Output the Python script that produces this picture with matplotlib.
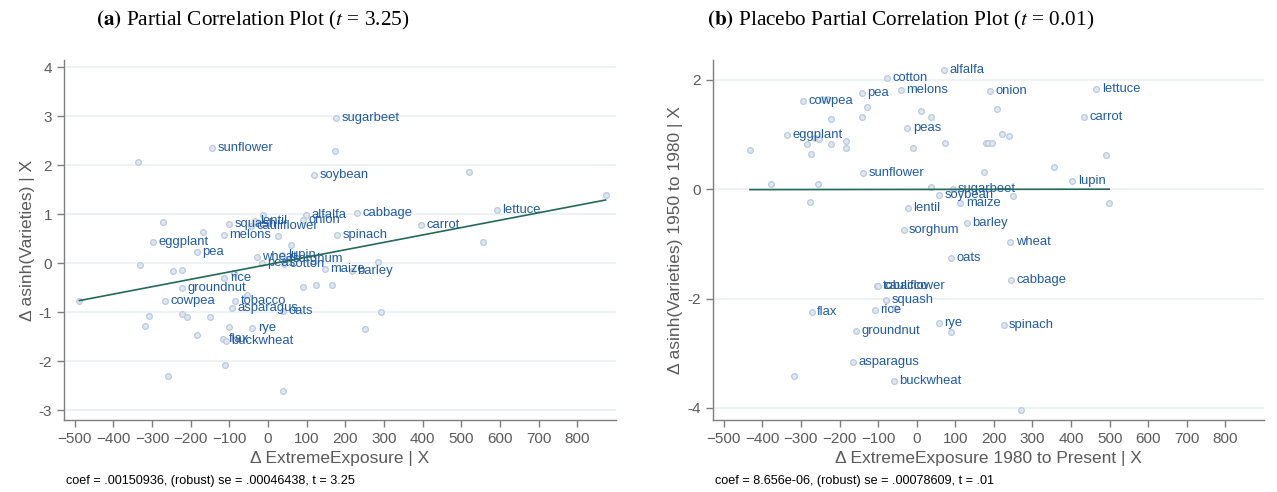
import matplotlib
matplotlib.use("Agg")
import matplotlib.pyplot as plt
import numpy as np

plt.rcParams['font.family'] = ['Liberation Sans', 'DejaVu Sans']
plt.rcParams['mathtext.fontset'] = 'stix'

# panel (a): partial correlation
crops_a = ["sugarbeet", "", "sunflower", "", "soybean", "", "", "lettuce", "cabbage", "carrot",
           "", "spinach", "", "eggplant", "", "pea", "squash", "melons", "", "alfalfa",
           "onion", "lentil", "cauliflower", "", "", "wheat", "lupin", "peas", "cotton", "sorghum",
           "", "maize", "barley", "", "", "", "", "rice", "groundnut", "",
           "", "", "", "cowpea", "tobacco", "asparagus", "oats", "", "", "",
           "", "", "", "", "", "rye", "", "", "flax", "buckwheat",
           "", "", ""]
x_a = [176, 173, -144, -337, 119, 519, 873, 592, 229, 396,
       555, 179, -271, -298, -169, -184, -101, -115, -12, 97,
       90, -34, -44, 25, 58, -29, 37, -16, 42, 50,
       283, 146, 217, -222, -245, -331, -89, -113, -222, 90,
       124, 165, -55, -266, -85, -94, 39, -488, -224, -309,
       -210, -151, 291, -319, -100, -41, 251, -184, -117, -109,
       -112, -260, 38]
y_a = [2.96, 2.30, 2.36, 2.07, 1.81, 1.87, 1.40, 1.09, 1.02, 0.79,
       0.43, 0.575, 0.84, 0.43, 0.63, 0.23, 0.81, 0.57, 0.99, 0.99,
       0.88, 0.86, 0.76, 0.56, 0.37, 0.13, 0.17, 0.01, -0.02, 0.08,
       0.03, -0.12, -0.16, -0.14, -0.15, -0.03, -0.19, -0.31, -0.51, -0.49,
       -0.45, -0.45, -0.65, -0.76, -0.77, -0.92, -0.98, -0.76, -1.03, -1.07,
       -1.10, -1.10, -0.99, -1.28, -1.30, -1.32, -1.34, -1.47, -1.54, -1.59,
       -2.08, -2.30, -2.60]
coef_a = 0.00150936
note_a = "coef = .00150936, (robust) se = .00046438, t = 3.25"

# panel (b): placebo
crops_b = ["alfalfa", "cotton", "melons", "onion", "lettuce", "pea", "cowpea", "", "", "",
           "", "", "", "", "", "carrot", "peas", "eggplant", "", "",
           "", "", "", "", "", "", "", "", "", "",
           "", "", "", "", "", "", "sunflower", "lupin", "", "",
           "", "", "sugarbeet", "soybean", "", "maize", "", "lentil", "barley", "sorghum",
           "wheat", "oats", "cabbage", "tobacco", "cauliflower", "squash", "", "rice", "flax", "rye",
           "", "groundnut", "spinach", "asparagus", "", "buckwheat", ""]
x_b = [70, -77, -41, 190, 465, -143, -295, -245, -233, -130,
       207, 10, 36, -222, -143, 433, -24, -336, -263, -254,
       -284, -222, -184, -183, 74, -10, -432, -273, 220, 240,
       180, 186, 196, 490, 355, 175, -140, 403, -378, -255,
       -276, 36, 93, 59, 249, 113, 499, -23, 130, -34,
       243, 88, 245, -103, -101, -79, -57, -108, -272, 57,
       90, -158, 225, -164, -317, -60, 270]
y_b = [2.18, 2.03, 1.82, 1.80, 1.83, 1.76, 1.62, 1.65, 1.64, 1.50,
       1.47, 1.43, 1.32, 1.29, 1.31, 1.31, 1.11, 0.99, 0.93, 0.91,
       0.83, 0.82, 0.88, 0.76, 0.84, 0.75, 0.71, 0.64, 1.00, 0.98,
       0.85, 0.84, 0.84, 0.62, 0.41, 0.31, 0.30, 0.15, 0.10, 0.09,
       -0.24, 0.04, 0.00, -0.10, -0.12, -0.26, -0.26, -0.35, -0.61, -0.75,
       -0.96, -1.26, -1.66, -1.77, -1.77, -2.03, -2.17, -2.21, -2.25, -2.44,
       -2.61, -2.59, -2.48, -3.16, -3.42, -3.51, -4.03]
coef_b = 8.656e-06
note_b = "coef = 8.656e-06, (robust) se = .00078609, t = .01"

gray = "#5a5a5a"
lab_col = "#1f5aa6"


def panel(ax, x, y, crops, coef, yticks, ylim, xlabel, ylabel, note):
    x = np.array(x, dtype=float)
    y = np.array(y, dtype=float)
    ax.scatter(x, y, s=17, facecolor="#dde6f1", edgecolor="#bccbdd", linewidth=0.9, zorder=2)
    for xi, yi, c in zip(x, y, crops):
        if c:
            ax.annotate(c, (xi, yi), xytext=(4.0, 0), textcoords="offset points",
                        va="center", ha="left", fontsize=9.4, color=lab_col, zorder=3)
    # fitted line through the residual means
    xx = np.array([x.min(), x.max()])
    b0 = y.mean() - coef * x.mean()
    ax.plot(xx, b0 + coef * xx, color="#236b57", lw=1.2, zorder=4)

    ax.set_xlim(-528, 900)
    ax.set_ylim(*ylim)
    ax.set_xticks(np.arange(-500, 801, 100))
    ax.set_yticks(yticks)
    ax.set_yticklabels([str(t) for t in yticks])
    ax.grid(axis="y", color="#e8f0f2", lw=1.1, zorder=0)
    ax.set_axisbelow(True)
    for s in ["top", "right"]:
        ax.spines[s].set_visible(False)
    for s in ["left", "bottom"]:
        ax.spines[s].set_color("#7f7f7f")
        ax.spines[s].set_linewidth(1.0)
    ax.tick_params(colors="#7f7f7f", labelcolor=gray, labelsize=11, length=5, width=1)
    ax.set_xlabel(xlabel, color=gray, fontsize=12.5, labelpad=4)
    ax.set_ylabel(ylabel, color=gray, fontsize=12.5, labelpad=3)
    ax.text(0.003, -0.169, note, transform=ax.transAxes, fontsize=9.1, color="black",
            ha="left", va="center")


fig = plt.figure(figsize=(12.77, 4.92), dpi=100)
ax1 = fig.add_axes([0.0501, 0.1463, 0.4323, 0.7317])
ax2 = fig.add_axes([0.5583, 0.1463, 0.4315, 0.7317])

panel(ax1, x_a, y_a, crops_a, coef_a, [-3, -2, -1, 0, 1, 2, 3, 4], (-3.2, 4.15),
      "Δ ExtremeExposure | X", "Δ asinh(Varieties) | X", note_a)
panel(ax2, x_b, y_b, crops_b, coef_b, [-4, -2, 0, 2], (-4.22, 2.36),
      "Δ ExtremeExposure 1980 to Present | X", "Δ asinh(Varieties) 1950 to 1980 | X", note_b)

fig.text(253 / 1277, 1 - 20 / 492, r"$\mathbf{(a)}$ Partial Correlation Plot ($t$ = 3.25)",
         ha="center", va="center", fontsize=15.3, family="Liberation Serif")
fig.text(901 / 1277, 1 - 20 / 492, r"$\mathbf{(b)}$ Placebo Partial Correlation Plot ($t$ = 0.01)",
         ha="center", va="center", fontsize=15.3, family="Liberation Serif")

fig.savefig("out.png", dpi=100)
